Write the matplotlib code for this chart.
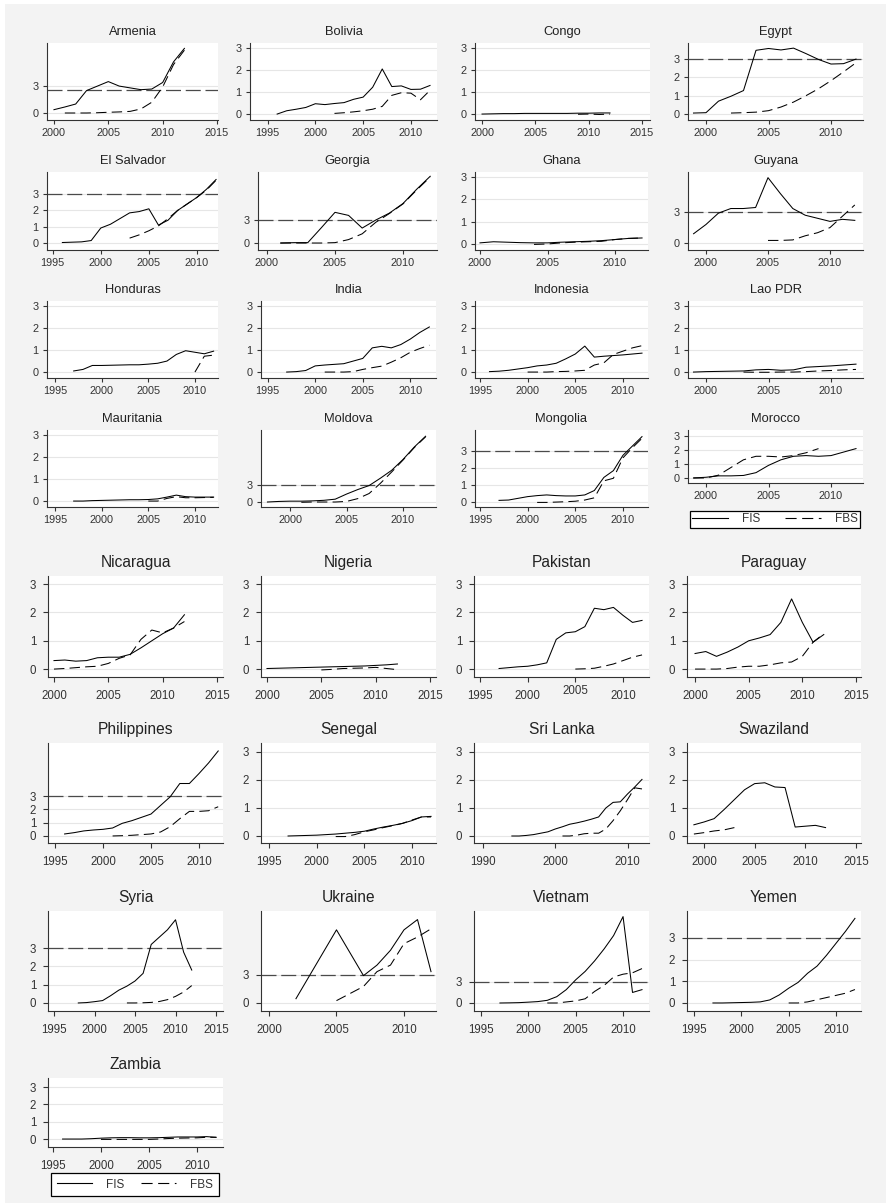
import numpy as np
import matplotlib.pyplot as plt
from matplotlib.lines import Line2D
from matplotlib.patches import Rectangle
from matplotlib.transforms import ScaledTranslation

plt.rcParams['font.family'] = ['Liberation Sans', 'DejaVu Sans']

nan = np.nan

# FIS / FBS per country, one value per year starting at the first year given in `panels`
armenia_fis = [0.37, 0.67, 1.0, 2.5, 3.0, 3.5, 3.0, 2.8, 2.6, 2.67, 3.4, 5.7, 7.2]
armenia_fbs = [nan, 0.0, 0.0, 0.0, 0.03, 0.08, 0.12, 0.18, 0.45, 1.2, 2.9, 5.4, 7.0]
bolivia_fis = [0.0, 0.15, 0.22, 0.3, 0.47, 0.43, 0.48, 0.52, 0.67, 0.77, 1.22, 2.05, 1.25, 1.28, 1.12, 1.13, 1.3]
bolivia_fbs = [nan, nan, nan, nan, nan, nan, 0.03, 0.06, 0.1, 0.15, 0.22, 0.35, 0.85, 0.97, 0.95, 0.65, 1.08]
congo_fis = [0.0, 0.01, 0.02, 0.02, 0.03, 0.03, 0.03, 0.03, 0.03, 0.04, 0.04, 0.05, 0.05]
congo_fbs = [nan, nan, nan, nan, nan, nan, nan, nan, nan, -0.01, 0.0, -0.02, 0.0]
egypt_fis = [0.05, 0.07, 0.7, 0.97, 1.28, 3.48, 3.58, 3.5, 3.6, 3.3, 2.98, 2.73, 2.75, 3.0]
egypt_fbs = [nan, nan, nan, 0.05, 0.07, 0.1, 0.18, 0.38, 0.65, 1.0, 1.38, 1.82, 2.3, 2.8]
elsalvador_fis = [0.03, 0.05, 0.07, 0.15, 0.92, 1.15, 1.5, 1.85, 1.93, 2.1, 1.1, 1.4, 2.0, 2.4, 2.8, 3.3, 3.9]
elsalvador_fbs = [nan, nan, nan, nan, nan, nan, nan, 0.3, 0.5, 0.75, 1.05, 1.5, 2.0, 2.4, 2.8, 3.25, 3.85]
georgia_fis = [0.0, 0.05, 0.05, 2.0, 4.0, 3.6, 1.95, 3.0, 3.9, 5.15, 7.0, 8.7]
georgia_fbs = [0.0, 0.0, 0.0, 0.0, 0.05, 0.45, 1.2, 2.7, 3.85, 5.1, 6.9, 8.6]
ghana_fis = [0.05, 0.1, 0.08, 0.06, 0.05, 0.05, 0.08, 0.1, 0.12, 0.15, 0.2, 0.25, 0.27]
ghana_fbs = [nan, nan, nan, nan, -0.02, 0.0, 0.05, 0.08, 0.1, 0.12, 0.2, 0.25, 0.27]
guyana_fis = [0.9, 1.8, 2.9, 3.35, 3.35, 3.45, 6.35, 4.8, 3.35, 2.7, 2.4, 2.1, 2.3, 2.2]
guyana_fbs = [nan, nan, nan, nan, nan, nan, 0.25, 0.25, 0.3, 0.7, 1.0, 1.5, 2.6, 3.7]
honduras_fis = [0.05, 0.12, 0.3, 0.3, 0.31, 0.32, 0.33, 0.33, 0.36, 0.4, 0.5, 0.8, 0.97, 0.9, 0.83, 0.95]
honduras_fbs = [nan] * 13 + [0.0, 0.72, 0.77]
india_fis = [0.0, 0.02, 0.07, 0.28, 0.32, 0.35, 0.38, 0.5, 0.62, 1.1, 1.17, 1.1, 1.25, 1.5, 1.8, 2.05]
india_fbs = [nan, nan, nan, nan, 0.0, 0.0, 0.0, 0.02, 0.12, 0.2, 0.27, 0.45, 0.65, 0.9, 1.07, 1.22]
indonesia_fis = [0.02, 0.04, 0.08, 0.14, 0.2, 0.28, 0.32, 0.4, 0.6, 0.82, 1.18, 0.68, 0.72, 0.75, 0.78, 0.82, 0.86]
indonesia_fbs = [nan, nan, nan, nan, 0.0, 0.0, 0.0, 0.02, 0.03, 0.05, 0.08, 0.32, 0.42, 0.8, 0.95, 1.1, 1.2]
lao_fis = [0.0, 0.02, 0.03, 0.04, 0.05, 0.1, 0.12, 0.08, 0.1, 0.22, 0.25, 0.28, 0.32, 0.36]
lao_fbs = [nan, nan, nan, nan, 0.0, -0.01, -0.01, 0.0, 0.0, 0.02, 0.05, 0.07, 0.1, 0.12]
mauritania_fis = [0.0, 0.0, 0.02, 0.03, 0.04, 0.05, 0.06, 0.06, 0.07, 0.1, 0.18, 0.27, 0.2, 0.18, 0.18, 0.18]
mauritania_fbs = [nan] * 8 + [0.0, 0.0, 0.12, 0.2, 0.15, 0.15, 0.16, 0.17]
moldova_fis = [0.0, 0.1, 0.15, 0.15, 0.2, 0.3, 0.5, 1.4, 2.2, 2.9, 4.2, 5.6, 7.5, 9.7, 11.6]
moldova_fbs = [nan, nan, nan, -0.05, 0.0, 0.0, 0.0, 0.1, 0.6, 1.5, 3.3, 5.3, 7.4, 9.6, 11.5]
mongolia_fis = [0.1, 0.12, 0.22, 0.32, 0.38, 0.42, 0.38, 0.36, 0.36, 0.42, 0.68, 1.45, 1.85, 2.75, 3.3, 3.85]
mongolia_fbs = [nan, nan, nan, nan, -0.02, -0.02, 0.0, 0.02, 0.05, 0.12, 0.25, 1.25, 1.4, 2.6, 3.2, 3.75]
morocco_fis = [0.0, 0.05, 0.15, 0.15, 0.18, 0.38, 0.9, 1.3, 1.55, 1.6, 1.55, 1.6, 1.85, 2.1]
morocco_fbs = [0.0, 0.0, 0.2, 0.75, 1.3, 1.55, 1.55, 1.5, 1.6, 1.8, 2.1, nan, nan, nan]
nicaragua_fis = [0.3, 0.32, 0.28, 0.3, 0.4, 0.42, 0.42, 0.52, 0.75, 1.0, 1.25, 1.45, 1.92]
nicaragua_fbs = [0.0, 0.02, 0.05, 0.08, 0.1, 0.2, 0.38, 0.5, 1.05, 1.38, 1.28, 1.45, 1.68]
nigeria_fis = [0.02, 0.03, 0.04, 0.05, 0.06, 0.07, 0.08, 0.09, 0.1, 0.11, 0.13, 0.15, 0.18]
nigeria_fbs = [nan, nan, nan, nan, nan, -0.03, -0.01, 0.02, 0.03, 0.04, 0.06, 0.02, -0.02]
pakistan_fis = [0.02, 0.05, 0.08, 0.1, 0.15, 0.22, 1.05, 1.28, 1.32, 1.5, 2.15, 2.1, 2.18, 1.9, 1.65, 1.72]
pakistan_fbs = [nan] * 8 + [0.0, 0.01, 0.03, 0.1, 0.18, 0.3, 0.42, 0.5]
paraguay_fis = [0.55, 0.62, 0.45, 0.6, 0.78, 1.0, 1.1, 1.22, 1.65, 2.48, 1.65, 0.95, 1.22]
paraguay_fbs = [0.0, 0.0, 0.0, 0.02, 0.07, 0.1, 0.1, 0.15, 0.22, 0.25, 0.45, 0.95, 1.25]
philippines_fis = [0.15, 0.25, 0.38, 0.45, 0.5, 0.6, 0.95, 1.15, 1.4, 1.65, 2.3, 2.95, 3.95, 3.95, 4.7, 5.5, 6.4]
philippines_fbs = [nan] * 5 + [0.0, 0.02, 0.05, 0.1, 0.15, 0.3, 0.7, 1.3, 1.85, 1.85, 1.9, 2.2]
senegal_fis = [0.0, 0.01, 0.02, 0.03, 0.05, 0.07, 0.1, 0.13, 0.17, 0.25, 0.32, 0.38, 0.45, 0.55, 0.68, 0.7]
senegal_fbs = [nan] * 5 + [-0.02, -0.02, 0.05, 0.15, 0.22, 0.3, 0.37, 0.45, 0.57, 0.68, 0.68]
srilanka_fis = [0.0, 0.0, 0.02, 0.05, 0.1, 0.15, 0.25, 0.33, 0.42, 0.47, 0.53, 0.6, 0.68, 1.0, 1.2, 1.22, 1.5, 1.75, 2.02]
srilanka_fbs = [nan] * 7 + [0.0, 0.0, 0.03, 0.08, 0.1, 0.1, 0.25, 0.55, 0.9, 1.3, 1.72, 1.68]
swaziland_fis = [0.4, 0.5, 0.62, 0.95, 1.3, 1.65, 1.87, 1.9, 1.75, 1.73, 0.32, 0.35, 0.38, 0.3]
swaziland_fbs = [0.07, 0.12, 0.18, 0.22, 0.3] + [nan] * 9
syria_fis = [0.0, 0.02, 0.07, 0.13, 0.4, 0.7, 0.92, 1.2, 1.62, 3.2, 3.6, 4.0, 4.55, 2.78, 1.8]
syria_fbs = [nan] * 6 + [0.0, 0.0, 0.01, 0.03, 0.08, 0.18, 0.36, 0.6, 0.95]
ukraine_fis = [0.46, nan, nan, 7.84, nan, 2.93, 4.06, 5.65, 7.84, 8.94, 3.36]
ukraine_fbs = [nan, nan, nan, 0.25, nan, 1.77, 3.36, 4.06, 6.36, 7.07, 7.95]
vietnam_fis = [0.0, 0.02, 0.05, 0.12, 0.2, 0.38, 0.9, 1.9, 3.3, 4.5, 6.0, 7.7, 9.6, 12.3, 1.5, 1.9]
vietnam_fbs = [nan] * 5 + [0.0, 0.0, 0.15, 0.3, 0.6, 1.65, 2.5, 3.7, 4.1, 4.3, 4.9]
yemen_fis = [0.0, 0.0, 0.01, 0.02, 0.03, 0.05, 0.14, 0.37, 0.68, 0.95, 1.37, 1.7, 2.2, 2.75, 3.3, 3.9]
yemen_fbs = [nan] * 8 + [0.0, 0.0, 0.05, 0.15, 0.25, 0.35, 0.45, 0.62]
zambia_fis = [0.0, 0.0, 0.0, 0.02, 0.05, 0.07, 0.08, 0.08, 0.07, 0.07, 0.08, 0.1, 0.12, 0.12, 0.12, 0.14, 0.1]
zambia_fbs = [nan] * 4 + [-0.02] * 6 + [0.0, 0.03, 0.05, 0.06, 0.07, 0.1, 0.1]

# (title, first year, FIS, FBS, reference line)
panels = [
    ('Armenia', 2000, armenia_fis, armenia_fbs, 2.55),
    ('Bolivia', 1996, bolivia_fis, bolivia_fbs, None),
    ('Congo', 2000, congo_fis, congo_fbs, None),
    ('Egypt', 1999, egypt_fis, egypt_fbs, 3),
    ('El Salvador', 1996, elsalvador_fis, elsalvador_fbs, 3),
    ('Georgia', 2001, georgia_fis, georgia_fbs, 3),
    ('Ghana', 2000, ghana_fis, ghana_fbs, None),
    ('Guyana', 1999, guyana_fis, guyana_fbs, 3),
    ('Honduras', 1997, honduras_fis, honduras_fbs, None),
    ('India', 1997, india_fis, india_fbs, None),
    ('Indonesia', 1996, indonesia_fis, indonesia_fbs, None),
    ('Lao PDR', 1999, lao_fis, lao_fbs, None),
    ('Mauritania', 1997, mauritania_fis, mauritania_fbs, None),
    ('Moldova', 1998, moldova_fis, moldova_fbs, 3),
    ('Mongolia', 1997, mongolia_fis, mongolia_fbs, 3),
    ('Morocco', 1999, morocco_fis, morocco_fbs, None),
    ('Nicaragua', 2000, nicaragua_fis, nicaragua_fbs, None),
    ('Nigeria', 2000, nigeria_fis, nigeria_fbs, None),
    ('Pakistan', 1997, pakistan_fis, pakistan_fbs, None),
    ('Paraguay', 2000, paraguay_fis, paraguay_fbs, None),
    ('Philippines', 1996, philippines_fis, philippines_fbs, 3),
    ('Senegal', 1997, senegal_fis, senegal_fbs, None),
    ('Sri Lanka', 1994, srilanka_fis, srilanka_fbs, None),
    ('Swaziland', 1999, swaziland_fis, swaziland_fbs, None),
    ('Syria', 1998, syria_fis, syria_fbs, 3),
    ('Ukraine', 2002, ukraine_fis, ukraine_fbs, 3),
    ('Vietnam', 1997, vietnam_fis, vietnam_fbs, 3),
    ('Yemen', 1997, yemen_fis, yemen_fbs, 3),
    ('Zambia', 1996, zambia_fis, zambia_fbs, None),
]

# plot boxes in pixels: left, right, top, bottom, xlim, ylim, xticks, yticks
Y3 = [0, 1, 2, 3]
Y03 = [0, 3]
T5 = [1995, 2000, 2005, 2010]
T0 = [2000, 2005, 2010]
T15 = [2000, 2005, 2010, 2015]
layout = {
    'Armenia': (47, 218, 43, 120, (1999.36, 2015.09), (-0.78, 7.8), T15, Y03),
    'Bolivia': (250, 437, 43, 120, (1993.16, 2012.73), (-0.27, 3.23), T5, Y3),
    'Congo': (475, 650, 43, 120, (1999.34, 2015.75), (-0.27, 3.23), T15, Y3),
    'Egypt': (688, 863, 43, 120, (1998.56, 2012.56), (-0.33, 3.88), T0, Y3),
    'El Salvador': (47, 218, 172, 250, (1994.4, 2012.2), (-0.43, 4.36), T5, Y3),
    'Georgia': (258, 437, 172, 250, (1999.34, 2012.5), (-0.91, 9.26), T0, Y03),
    'Ghana': (475, 648, 172, 250, (1999.63, 2012.44), (-0.27, 3.23), T0, Y3),
    'Guyana': (688, 863, 172, 250, (1998.55, 2012.66), (-0.68, 6.9), T0, Y03),
    'Honduras': (47, 218, 301, 378, (1994.14, 2012.47), (-0.27, 3.23), T5, Y3),
    'India': (261, 436, 301, 378, (1994.3, 2012.7), (-0.27, 3.23), T5, Y3),
    'Indonesia': (475, 648, 301, 378, (1994.48, 2012.63), (-0.27, 3.23), T5, Y3),
    'Lao PDR': (688, 863, 301, 378, (1998.56, 2012.56), (-0.27, 3.23), T0, Y3),
    'Mauritania': (47, 218, 430, 507, (1994.14, 2012.47), (-0.27, 3.23), T5, Y3),
    'Moldova': (261, 436, 430, 507, (1997.43, 2012.92), (-0.88, 12.7), T0, Y03),
    'Mongolia': (475, 648, 430, 507, (1994.48, 2012.63), (-0.29, 4.24), T5, Y3),
    'Morocco': (688, 863, 430, 483, (1998.56, 2012.56), (-0.36, 3.43), T0, Y3),
    'Nicaragua': (48, 223, 576, 677, (1999.45, 2015.55), (-0.28, 3.29), T15, Y3),
    'Nigeria': (261, 436, 576, 677, (1999.45, 2015.55), (-0.28, 3.29), T15, Y3),
    'Pakistan': (474, 649, 576, 677, (1994.37, 2012.73), (-0.28, 3.29), T5, Y3),
    'Paraguay': (687, 861, 576, 677, (1999.25, 2015.47), (-0.28, 3.29), T15, Y3),
    'Philippines': (48, 223, 743, 843, (1994.27, 2012.5), (-0.53, 7.0), T5, Y3),
    'Senegal': (261, 436, 743, 843, (1994.16, 2012.52), (-0.25, 3.32), T5, Y3),
    'Sri Lanka': (474, 649, 743, 843, (1988.76, 2012.97), (-0.25, 3.32), [1990, 2000, 2010], Y3),
    'Swaziland': (687, 861, 743, 843, (1998.32, 2015.5), (-0.25, 3.32), T15, Y3),
    'Syria': (48, 223, 911, 1011, (1994.26, 2015.86), (-0.44, 5.03), [1995, 2000, 2005, 2010, 2015], Y3),
    'Ukraine': (261, 436, 911, 1011, (1999.41, 2012.37), (-0.86, 9.86), T0, Y03),
    'Vietnam': (474, 649, 911, 1011, (1994.26, 2012.74), (-1.14, 13.1), T5, Y03),
    'Yemen': (687, 861, 911, 1011, (1994.26, 2012.64), (-0.37, 4.24), T5, Y3),
    'Zambia': (48, 223, 1078, 1147, (1994.48, 2012.71), (-0.46, 3.53), T5, Y3),
}

W, H = 886, 1204
INK = '#333333'
GRID = '#e6e6e6'
FBS_DASH = (10, 5)
REF_DASH = (12, 3.8)

# text sizes for the upper (first 16) and lower panel blocks
small = dict(title=9.3, tick=7.8, tlen=2.9, xpad=3.0, ypad=3.4, tpad=6.0)
large = dict(title=11.2, tick=8.3, tlen=3.6, xpad=5.5, ypad=5.0, tpad=6.5)

fig = plt.figure(figsize=(W / 100, H / 100), dpi=100, facecolor='white')
fig.add_artist(Rectangle((5 / W, 1 / H), (W - 5) / W, (H - 5) / H,
                         transform=fig.transFigure, facecolor='#f3f3f3',
                         edgecolor='none', zorder=-10))

for i, (name, start, fis, fbs, ref) in enumerate(panels):
    left, right, top, bottom, xlim, ylim, xticks, yticks = layout[name]
    st = small if i < 16 else large
    ax = fig.add_axes([left / W, 1 - bottom / H, (right - left) / W, (bottom - top) / H])
    ax.set_facecolor('white')
    for v in yticks:
        ax.axhline(v, color=GRID, lw=0.8, zorder=0)
    if ref is not None:
        ax.axhline(ref, color='#4a4a4a', lw=0.9, dashes=REF_DASH, zorder=1)

    years = np.arange(start, start + len(fis))
    for vals, dash in ((fis, None), (fbs, FBS_DASH)):
        v = np.asarray(vals, dtype=float)
        ok = ~np.isnan(v)
        line, = ax.plot(years[ok], v[ok], color='black', lw=0.75, zorder=2)
        if dash:
            line.set_dashes(dash)

    ax.set_xlim(*xlim)
    ax.set_ylim(*ylim)
    ax.set_xticks(xticks, labels=[str(t) for t in xticks])
    ax.set_yticks(yticks, labels=[str(t) for t in yticks])
    for s in ('top', 'right'):
        ax.spines[s].set_visible(False)
    for s in ('left', 'bottom'):
        ax.spines[s].set_color(INK)
        ax.spines[s].set_linewidth(0.8)
    ax.tick_params(axis='both', colors=INK, labelsize=st['tick'],
                   length=st['tlen'], width=0.8)
    ax.tick_params(axis='x', pad=st['xpad'])
    ax.tick_params(axis='y', pad=st['ypad'])
    ax.set_title(name, fontsize=st['title'], color='#222222', pad=st['tpad'])

    if name == 'Pakistan':
        # the 2005 label sits a little higher than its neighbours
        for tk in ax.xaxis.get_major_ticks():
            if tk.get_loc() == 2005:
                tk.label1.set_transform(tk.label1.get_transform()
                                        + ScaledTranslation(0, 0.05, fig.dpi_scale_trans))

handles = [Line2D([], [], color='black', lw=0.8),
           Line2D([], [], color='black', lw=0.8, dashes=FBS_DASH)]
for x0, y0, x1, y1, bp in ((690, 511, 860, 528, 0.2), (51, 1173, 219, 1196, 0.5)):
    leg = fig.legend(handles, ['FIS', 'FBS'], loc='center',
                     bbox_to_anchor=(x0 / W, 1 - y1 / H, (x1 - x0) / W, (y1 - y0) / H),
                     mode='expand', ncol=2, fontsize=8.5, frameon=True, fancybox=False,
                     edgecolor='black', facecolor='white', framealpha=1,
                     handlelength=3.0, handletextpad=1.2, borderpad=bp,
                     borderaxespad=0, labelcolor=INK)
    leg.get_frame().set_linewidth(0.9)

fig.savefig('out.png', dpi=100, facecolor=fig.get_facecolor())
